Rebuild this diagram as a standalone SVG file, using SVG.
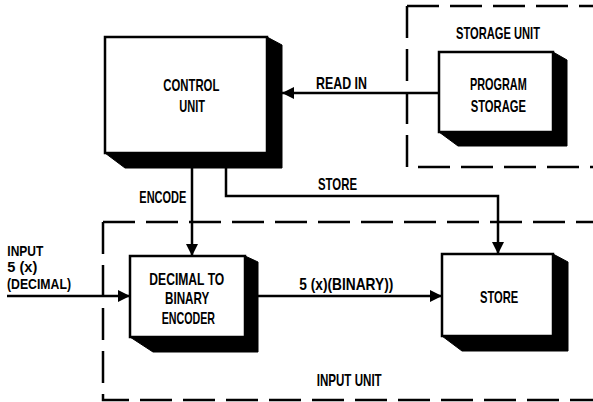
<svg xmlns="http://www.w3.org/2000/svg" width="593" height="402" viewBox="0 0 593 402">
<style>
.t{font-family:"Liberation Sans",Arial,sans-serif;font-size:17px;font-weight:bold;fill:#000;}
.s{font-size:14px;}
.face{fill:#fff;stroke:#000;stroke-width:2.5;}
.shadow{fill:#000;stroke:#000;stroke-width:1;stroke-linejoin:round;}
.dash{fill:none;stroke:#000;stroke-width:2.5;stroke-dasharray:32 11;}
.conn{fill:none;stroke:#000;stroke-width:2.5;}
</style>
<defs>
<marker id="ah" viewBox="0 0 12 12" refX="12" refY="6" markerWidth="12" markerHeight="12" markerUnits="userSpaceOnUse" orient="auto">
<path d="M0,0 L12,6 L0,12 Z" fill="#000"/>
</marker>
</defs>
<rect width="593" height="402" fill="#fff"/>

<g id="storage-unit">
<path class="dash" d="M407,6 H600"/>
<path class="dash" d="M407,6 V167 H600"/>
<text class="t" x="456" y="39" textLength="84" lengthAdjust="spacingAndGlyphs">STORAGE UNIT</text>
</g>

<g id="input-unit">
<path class="dash" d="M103,222 H600"/>
<path class="dash" d="M103,222 V400 H600"/>
<text class="t" x="316.7" y="386" textLength="65" lengthAdjust="spacingAndGlyphs">INPUT UNIT</text>
</g>

<g id="control-unit">
<polygon class="shadow" points="267,37 282,45 282,168 125,168 105,153"/>
<rect class="face" x="105" y="37" width="162" height="116"/>
<text class="t" x="163.3" y="91" textLength="56" lengthAdjust="spacingAndGlyphs">CONTROL</text>
<text class="t" x="179.3" y="112" textLength="25.7" lengthAdjust="spacingAndGlyphs">UNIT</text>
</g>

<g id="program-storage">
<polygon class="shadow" points="553,52 567,60 567,146 458,146 439,132"/>
<rect class="face" x="439" y="52" width="114" height="80"/>
<text class="t" x="470" y="90" textLength="56.7" lengthAdjust="spacingAndGlyphs">PROGRAM</text>
<text class="t" x="470.7" y="111.5" textLength="55.3" lengthAdjust="spacingAndGlyphs">STORAGE</text>
</g>

<g id="encoder">
<polygon class="shadow" points="245,256 258,262 258,352 153,352 130,337"/>
<rect class="face" x="130" y="256" width="115" height="81"/>
<text class="t" x="149.3" y="285" textLength="75" lengthAdjust="spacingAndGlyphs">DECIMAL TO</text>
<text class="t" x="165" y="304.3" textLength="44.3" lengthAdjust="spacingAndGlyphs">BINARY</text>
<text class="t" x="161.7" y="324" textLength="53.3" lengthAdjust="spacingAndGlyphs">ENCODER</text>
</g>

<g id="store">
<polygon class="shadow" points="553,254 568,262 568,351 462,351 442,336"/>
<rect class="face" x="442" y="254" width="111" height="82"/>
<text class="t" x="480" y="303" textLength="38.3" lengthAdjust="spacingAndGlyphs">STORE</text>
</g>

<g id="connectors">
<path class="conn" d="M439,93 H282" marker-end="url(#ah)"/>
<path class="conn" d="M192,168 V256" marker-end="url(#ah)"/>
<path class="conn" d="M226,168 V196 H498 V254" marker-end="url(#ah)"/>
<path class="conn" d="M7,296 H130" marker-end="url(#ah)"/>
<path class="conn" d="M258,296 H442" marker-end="url(#ah)"/>
<text class="t" x="316" y="89" textLength="51" lengthAdjust="spacingAndGlyphs">READ IN</text>
<text class="t" x="139.3" y="202.5" textLength="47" lengthAdjust="spacingAndGlyphs">ENCODE</text>
<text class="t" x="318" y="190" textLength="39" lengthAdjust="spacingAndGlyphs">STORE</text>
<text class="t s" x="7.3" y="255.5" textLength="36" lengthAdjust="spacingAndGlyphs">INPUT</text>
<text class="t s" x="7.3" y="272" textLength="30" lengthAdjust="spacingAndGlyphs">5 (x)</text>
<text class="t s" x="7" y="288.5" textLength="64" lengthAdjust="spacingAndGlyphs">(DECIMAL)</text>
<text class="t" x="299.3" y="290" textLength="94" lengthAdjust="spacingAndGlyphs">5 (x)(BINARY))</text>
</g>
</svg>
